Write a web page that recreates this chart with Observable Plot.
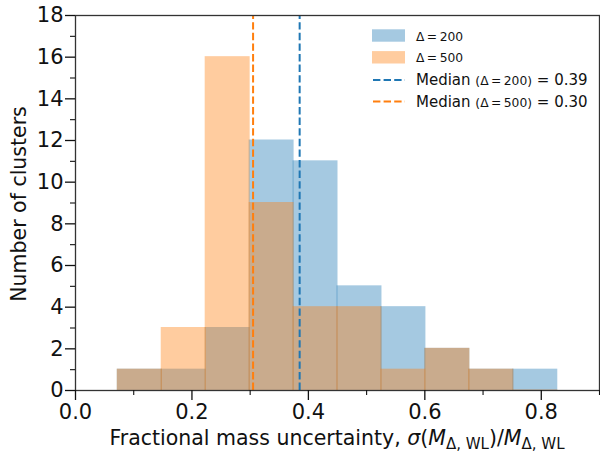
<!DOCTYPE html>
<html><head><meta charset="utf-8">
<script src="https://cdn.jsdelivr.net/npm/d3@7"></script>
<script src="https://cdn.jsdelivr.net/npm/@observablehq/plot@0.6"></script>
<style>
body{margin:0;background:#fff;}
#wrap{width:600px;height:454px;}
</style></head><body><div id="wrap"></div>
<script>
// ---- data ----
const binEdges = [0.0726, 0.1481, 0.2236, 0.2991, 0.3746, 0.4500, 0.5255, 0.6010, 0.6765, 0.7520, 0.8275];
const counts200 = [1, 1, 3, 12, 11, 5, 4, 2, 1, 1];
const counts500 = [1, 3, 16, 9, 4, 4, 1, 2, 1, 0];
const median200 = 0.385;
const median500 = 0.305;
const seriesNames = ["Δ\u2009=\u2009200", "Δ\u2009=\u2009500"];
const medianLabels = ["0.39", "0.30"];
const xTicks = [0, 0.2, 0.4, 0.6, 0.8];
const xMinorTicks = [0.1, 0.3, 0.5, 0.7, 0.9];
const yTicks = [0, 2, 4, 6, 8, 10, 12, 14, 16, 18];
const yMinorTicks = [1, 3, 5, 7, 9, 11, 13, 15, 17];

const blue = "#1f77b4", orange = "#ff7f0e";
const toBins = counts => counts.map((c, i) => ({x1: binEdges[i], x2: binEdges[i + 1], y: c}));
const bins200 = toBins(counts200);
const bins500 = toBins(counts500);
const font = "DejaVu Sans, sans-serif";

const svg = Plot.plot({
  width: 600, height: 454,
  marginLeft: 75, marginRight: 1, marginTop: 15, marginBottom: 64,
  style: {fontFamily: font, background: "#fff", color: "#111"},
  x: {domain: [0, 0.9]},
  y: {domain: [0, 18]},
  marks: [
    Plot.rectY(bins200, {x1: "x1", x2: "x2", y: "y", fill: blue, fillOpacity: 0.4, inset: -0.5}),
    Plot.rectY(bins500, {x1: "x1", x2: "x2", y: "y", fill: orange, fillOpacity: 0.4, inset: -0.5}),
    Plot.ruleX([median200], {x: d => d, y1: 0, y2: 18, stroke: blue, strokeWidth: 2, strokeDasharray: "7.4,3.2"}),
    Plot.ruleX([median500], {x: d => d, y1: 0, y2: 18, stroke: orange, strokeWidth: 2, strokeDasharray: "7.4,3.2"}),
    Plot.frame({stroke: "#333", strokeWidth: 1.3}),
    Plot.axisX({ticks: xTicks, tickSize: 10, tickPadding: 4, tickFormat: d3.format(".1f"), fontSize: 21, label: null, strokeWidth: 1.3}),
    Plot.axisX({ticks: xMinorTicks, tickSize: 5, tickFormat: () => "", label: null, strokeWidth: 1.1}),
    Plot.axisY({ticks: yTicks, tickSize: 10, tickPadding: 2, fontSize: 21, label: null, strokeWidth: 1.3}),
    Plot.axisY({ticks: yMinorTicks, tickSize: 5, tickFormat: () => "", label: null, strokeWidth: 1.1})
  ]
});
document.getElementById("wrap").appendChild(svg);

const s = d3.select(svg);
// y label
s.append("text")
  .attr("transform", "translate(18.5,204) rotate(-90)")
  .attr("text-anchor", "middle").attr("dominant-baseline", "central")
  .attr("font-family", font).attr("font-size", 20.5).attr("fill", "#111")
  .text("Number of clusters");

// x label with math parts
const xl = s.append("text")
  .attr("x", 337).attr("y", 445)
  .attr("text-anchor", "middle")
  .attr("font-family", font).attr("font-size", 20.5).attr("fill", "#111");
xl.append("tspan").text("Fractional mass uncertainty, ");
xl.append("tspan").attr("font-style", "italic").text("σ");
xl.append("tspan").text("(");
xl.append("tspan").attr("font-style", "italic").text("M");
xl.append("tspan").attr("font-size", 15).attr("dy", 4).text("Δ, WL");
xl.append("tspan").attr("dy", -4).text(")/");
xl.append("tspan").attr("font-style", "italic").text("M");
xl.append("tspan").attr("font-size", 15).attr("dy", 4).text("Δ, WL");

// legend
const lg = s.append("g").attr("font-family", font).attr("fill", "#111").attr("text-anchor", "start");
const rowY = [35.5, 57.3, 80, 101.5];
[blue, orange].forEach((c, i) => {
  lg.append("rect").attr("x", 372).attr("y", rowY[i] - 6.2).attr("width", 33).attr("height", 12.4)
    .attr("fill", c).attr("fill-opacity", 0.4);
  lg.append("text").attr("x", 416).attr("y", rowY[i] + 5).attr("font-size", 12.3).attr("text-anchor", "start").text(seriesNames[i]);
});
[blue, orange].forEach((c, i) => {
  const y = rowY[i + 2];
  lg.append("line").attr("x1", 373).attr("x2", 405).attr("y1", y).attr("y2", y)
    .attr("stroke", c).attr("stroke-width", 2).attr("stroke-dasharray", "7.4,3.2");
  const t = lg.append("text").attr("x", 416).attr("y", y + 5).attr("font-size", 15).attr("text-anchor", "start");
  t.append("tspan").text("Median ");
  t.append("tspan").attr("font-size", 12.3).text("(" + seriesNames[i] + ")");
  t.append("tspan").text(" = " + medianLabels[i]);
});
</script></body></html>
